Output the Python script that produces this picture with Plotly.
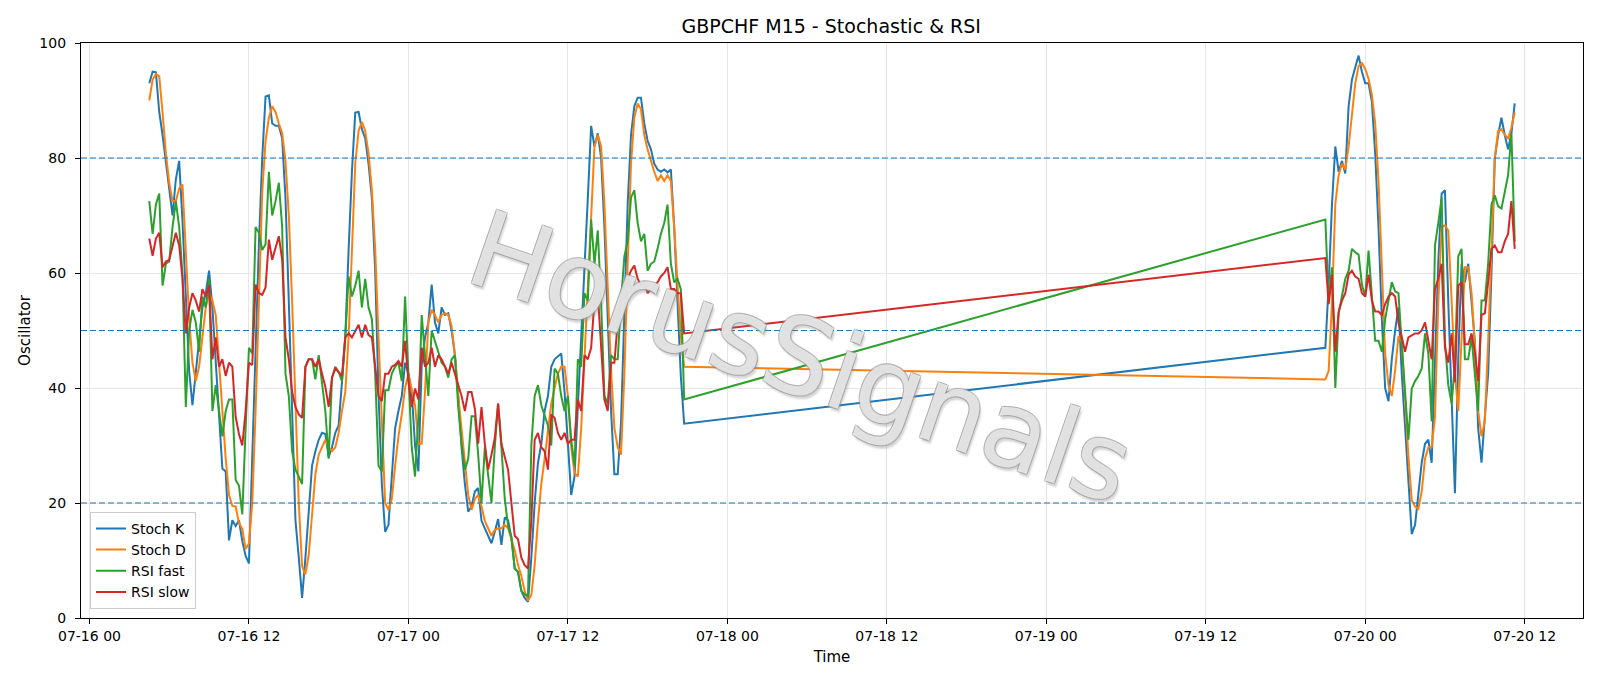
import pandas as pd
import plotly.graph_objects as go

# ---------------- data ----------------
seg1_start = "2020-07-16 04:30"
seg2_start = "2020-07-19 21:00"
bar_freq = "15min"

stoch_k_seg1 = [
    93, 95, 94.9, 88, 84, 79, 74.4, 70, 76.3, 79.5,
    69, 55, 43, 37, 42.5, 49, 54, 56.5, 60.4, 54,
    45, 36, 26, 25.5, 13.5, 17, 16, 17, 13.4, 10.8,
    9.5, 28, 48, 65, 80, 90.7, 90.9, 86, 85.6, 85.6,
    83.4, 73, 55, 36, 17, 10.5, 3.5, 10.5, 18, 26.5,
    29, 31, 32.2, 32, 28, 29.7, 32.2, 33.5, 41, 49,
    64, 77.6, 87.9, 88, 85, 83.4, 79, 73, 60.4, 39,
    23.3, 15, 16.2, 24, 33, 36, 38.6, 44.4, 42.5, 39.3,
    30, 25.5, 44, 48.8, 51.4, 58, 51.4, 49.5, 54, 52.7,
    53, 50, 45.7, 38.6, 29.7, 23.3, 18.5, 19.4, 22, 22.6,
    16.9, 15.6, 14.3, 13, 15, 17.2, 12.7, 17.5, 17, 14,
    8.6, 8, 4.7, 3.5, 2.8, 10.5, 20, 27, 30.3, 36,
    38.6, 43.7, 45, 45.5, 46, 39.3, 31, 21.4, 24.6, 36.7,
    47, 58.4, 73, 85.6, 82, 84.3, 80, 68, 52, 36,
    25, 25, 34, 52, 72, 84, 89, 90.5, 90.5, 86,
    83, 81.5, 79, 78, 77.6, 78, 77.5, 78, 68, 55,
    42, 33.8,
]
stoch_k_seg2 = [
    47, 58, 72, 82, 77.6, 79.5, 77.3, 89, 93.6, 95.8,
    97.8, 95, 93, 93, 89.8, 80.8, 68, 52, 40, 37.7,
    45, 50, 54, 42.5, 33, 23.3, 14.6, 16.2, 22, 27,
    30.3, 31, 27, 46, 62, 73.8, 74.4, 55, 38, 21.7,
    45, 61.6, 58.4, 61.6, 55, 48, 33, 27, 35, 42.5,
    60, 79.9, 84, 87, 84, 81.5, 84.3, 89.5,
]

stoch_d_seg1 = [
    90, 93.6, 94.6, 94.2, 87.9, 80.8, 75.7, 72.5, 72.5, 74.7,
    75.4, 64.8, 52, 44.4, 41.2, 43.7, 49.5, 54, 56.5, 55.2,
    52.7, 44.4, 36, 27.8, 21.4, 19.5, 19.4, 16.5, 15.5, 12,
    13, 20, 36, 55, 74, 83, 87, 89, 88, 86,
    84.3, 79.5, 70, 55, 36, 20, 9, 7.6, 11, 17.5,
    25, 28.4, 29.7, 31, 29.7, 29, 29.7, 32.2, 36, 39.3,
    48.8, 64.8, 79, 84.7, 86.3, 84.7, 80.8, 74.4, 64.2, 48.8,
    33, 20, 18.8, 20.7, 26.5, 31.6, 35.4, 40, 42.5, 40,
    37, 30.3, 30.3, 39.3, 51.4, 53.6, 52.7, 51.4, 52.7, 53,
    52.7, 50.8, 45.7, 38.6, 33, 26.5, 21.4, 18.8, 20.7, 21.4,
    19.4, 16.9, 15.6, 14.3, 15.3, 15.6, 15.6, 16.2, 15.6, 13.7,
    11.8, 9.2, 7.3, 4.7, 3, 4, 9.2, 16.9, 23.3, 27.7,
    32.9, 37.3, 40, 42.5, 43.7, 43.7, 38.6, 29.7, 25.2, 24.6,
    32.9, 45.7, 58.4, 71.2, 82, 84, 82, 72, 58, 43,
    33, 29.7, 28.4, 42.5, 61.6, 79, 87, 89.5, 88.5, 84,
    81.5, 79.5, 77.6, 76, 77, 76, 77, 76, 68, 58,
    49, 43.7,
]
stoch_d_seg2 = [
    41.5, 43, 55, 72, 77, 79, 78, 82, 88, 93,
    96, 96.5, 95.5, 93.8, 91, 86, 76, 60, 46, 40.5,
    38.6, 43, 49, 48, 38, 28, 20.5, 19.4, 19, 22,
    27.7, 29.7, 29.7, 35, 55.2, 68, 68.3, 67.4, 55.2, 42.5,
    36, 50, 61, 61, 56.5, 47.6, 36, 31.6, 34.2, 48,
    66, 80, 84.7, 85, 84, 83.4, 85.3, 87.9,
]

rsi_fast_seg1 = [
    72.5, 66.8, 71.9, 73.8, 57.8, 61.6, 62, 68, 72.5, 68,
    59.7, 36.7, 50, 53.6, 51.4, 46.3, 55.9, 54, 59, 36,
    40.5, 36, 31.6, 36, 38, 38, 24, 23, 18, 33,
    47, 46, 68, 67, 64, 65, 77.6, 70, 72.5, 75.7,
    68, 42.5, 38.6, 29, 25.8, 24.6, 23.3, 43.7, 45, 45,
    41.5, 45.7, 40.5, 36, 27.7, 41.8, 43.7, 42.8, 41.2, 48.8,
    59.4, 55.9, 57.8, 60.4, 54, 59, 54, 52, 42.5, 26.5,
    25.5, 39.6, 39.6, 42.5, 43.7, 44.4, 41.2, 55.9, 42.5, 29.7,
    24.6, 35, 52.7, 45, 38.6, 50, 48.2, 46.3, 44.4, 43.7,
    41.8, 45, 45.7, 36.7, 30.3, 25.8, 27.7, 35.1, 35.1, 28.4,
    20, 29.7, 25.2, 20, 29.7, 37.3, 29.7, 20.7, 16, 14,
    8.6, 8, 4.7, 4.1, 3.8, 30, 38.6, 40.5, 37, 35.4,
    33.5, 30, 43.4, 42.5, 38.6, 36, 38.6, 31, 26.5, 45,
    43.7, 56.5, 55.2, 69.3, 61.6, 67.4, 55, 38.6, 37.3, 45.7,
    45, 45, 55.2, 62.9, 65.5, 73.1, 74.4, 68.7, 65.5, 66.8,
    60.4, 61.6, 62, 64.2, 66.8, 68.7, 71.9, 61.6, 58.4, 59,
    57.2, 38,
]
rsi_fast_seg2 = [
    69.3, 55, 61, 40, 53, 56, 59, 60.4, 64.2, 63.6,
    63.2, 58, 55.9, 63.9, 55.2, 48.2, 48.2, 46.3, 52, 55.2,
    58.4, 56.8, 56.5, 47.6, 39.3, 31, 39.9, 41.2, 42.1, 43.4,
    49.5, 46, 34.2, 64.8, 68.7, 73.1, 48, 40.5, 37.3, 44,
    62.9, 64.2, 45, 45, 48.8, 42.5, 36, 55.2, 55.2, 61.6,
    71.9, 73.5, 71.6, 71.2, 74.4, 77, 84.3, 65.5,
]

rsi_slow_seg1 = [
    66, 63, 66, 67, 61, 62, 62.3, 64.5, 67, 64.8,
    59, 49.5, 54, 56.5, 55.2, 53.3, 57.2, 55.9, 57.8, 45,
    48.8, 43.7, 45, 42.1, 44.4, 43.7, 35, 32, 30, 36,
    44.4, 44, 58, 56.5, 56.2, 57.5, 65.8, 62.3, 64.5, 66.4,
    62.3, 48.8, 45, 39.3, 36.7, 35.4, 34.8, 43.7, 45, 45,
    43.7, 45, 42.5, 40.2, 36.7, 41.8, 43.4, 42.8, 42.1, 48.8,
    49.5, 48.8, 49.8, 51, 48.8, 51, 49.2, 48.8, 43.7, 38.6,
    37.7, 42.5, 42.5, 43.7, 44, 44.7, 43.7, 48.2, 41.2, 36.7,
    39.9, 38, 47, 43.7, 44.4, 47, 43.7, 45.7, 45, 43.7,
    42.5, 44.4, 42.5, 40.5, 38.6, 36, 39.3, 39.3, 36.4, 30.3,
    36.7, 30.3, 25.8, 28.4, 31.3, 37.3, 30.3, 28, 25.8, 20,
    14.3, 13.7, 10.5, 9.2, 8.6, 16.9, 31, 32.2, 29.7, 29,
    25.8, 35.4, 34.8, 32.2, 31, 32.2, 30.3, 31, 31, 38,
    36, 45.7, 45, 47, 55.2, 56.5, 48, 38, 36, 44.4,
    44.4, 51.4, 55.2, 57.8, 59, 60.4, 61.3, 59, 57.8, 58.4,
    56.5, 57.2, 57.8, 58.4, 59.4, 60, 61, 57.2, 57.2, 56.5,
    56.5, 49.5,
]
rsi_slow_seg2 = [
    62.6, 54.6, 59.7, 46.3, 53.3, 55.2, 56.5, 59.7, 60.4, 59.4,
    59, 56.5, 55.9, 59.7, 55.2, 53.3, 53.3, 52.7, 54.6, 55.9,
    56.5, 55.9, 51.4, 48.8, 46.3, 48.8, 49.2, 49.5, 49.5, 50,
    51.4, 48, 45, 57.2, 59, 61.6, 47, 44.4, 49.5, 41,
    57.8, 58.4, 47.6, 47.6, 49.5, 46.3, 41.2, 52.7, 53, 58.4,
    64.2, 64.8, 63.6, 63.6, 65.5, 66.8, 72.5, 64.2,
]

levels = [20, 50, 80]
series_names = ["Stoch K", "Stoch D", "RSI fast", "RSI slow"]
series_colors = ["#1f77b4", "#ff7f0e", "#2ca02c", "#d62728"]
title_text = "GBPCHF M15 - Stochastic & RSI"
watermark_text = "HorusSignals"


def make_times(n1, n2):
    t1 = pd.date_range(seg1_start, periods=n1, freq=bar_freq)
    t2 = pd.date_range(seg2_start, periods=n2, freq=bar_freq)
    return list(t1) + list(t2)


series = [
    (stoch_k_seg1, stoch_k_seg2),
    (stoch_d_seg1, stoch_d_seg2),
    (rsi_fast_seg1, rsi_fast_seg2),
    (rsi_slow_seg1, rsi_slow_seg2),
]

FONT = "DejaVu Sans"
fig = go.Figure()
all_times = []
for (s1, s2), name, color in zip(series, series_names, series_colors):
    t = make_times(len(s1), len(s2))
    all_times += t
    fig.add_trace(go.Scatter(x=t, y=s1 + s2, mode="lines", name=name,
                             line=dict(color=color, width=2)))

t_min, t_max = min(all_times), max(all_times)
span = t_max - t_min
x_range = [t_min - 0.05 * span, t_max + 0.05 * span]

for lv in levels:
    fig.add_shape(type="line", xref="paper", x0=0, x1=1, yref="y", y0=lv, y1=lv,
                  line=dict(color="#1f77b4", width=1.2, dash="6px,3px"), layer="above")

# watermark: light translucent fill, thin grey outline and an offset grey shadow
outline = "rgba(150,150,150,0.75)"
wm_shadow = (f"-1px -1px 0 {outline}, 1px -1px 0 {outline}, "
             f"-1px 1px 0 {outline}, 1px 1px 0 {outline}, "
             "3px 3px 2px rgba(125,125,125,0.45)")
fig.add_annotation(text=watermark_text, xref="paper", yref="paper", x=0.479, y=0.453,
                   showarrow=False, textangle=19,
                   font=dict(family=FONT, size=106, color="rgba(255,255,255,0.7)",
                             shadow=wm_shadow))

axis_common = dict(showline=True, mirror=True, linecolor="black", linewidth=1.2,
                   ticks="outside", ticklen=5, tickwidth=1.1, tickcolor="black",
                   showgrid=True, gridcolor="#e6e6e6", gridwidth=1, zeroline=False,
                   tickfont=dict(family=FONT, size=14, color="black"))

fig.update_layout(
    width=1600, height=686,
    margin=dict(l=81, r=17, t=43, b=68),
    paper_bgcolor="white", plot_bgcolor="white",
    font=dict(family=FONT, size=14, color="black"),
    title=dict(text=title_text, x=0.5195, xanchor="center", y=0.962, yanchor="middle",
               font=dict(family=FONT, size=19, color="black")),
    xaxis=dict(range=x_range, type="date", tick0="2020-07-16 00:00", dtick=12 * 3600 * 1000,
               tickformat="%m-%d %H",
               title=dict(text="Time", standoff=8, font=dict(family=FONT, size=15)),
               **axis_common),
    yaxis=dict(range=[0, 100], tick0=0, dtick=20, ticklabelstandoff=6,
               title=dict(text="Oscillator", standoff=5, font=dict(family=FONT, size=15)),
               **axis_common),
    legend=dict(x=0.006, y=0.016, xanchor="left", yanchor="bottom",
                bgcolor="rgba(255,255,255,0.85)", bordercolor="#cccccc", borderwidth=1,
                font=dict(family=FONT, size=14), tracegroupgap=2),
    showlegend=True,
)

fig.write_html("out.html")
